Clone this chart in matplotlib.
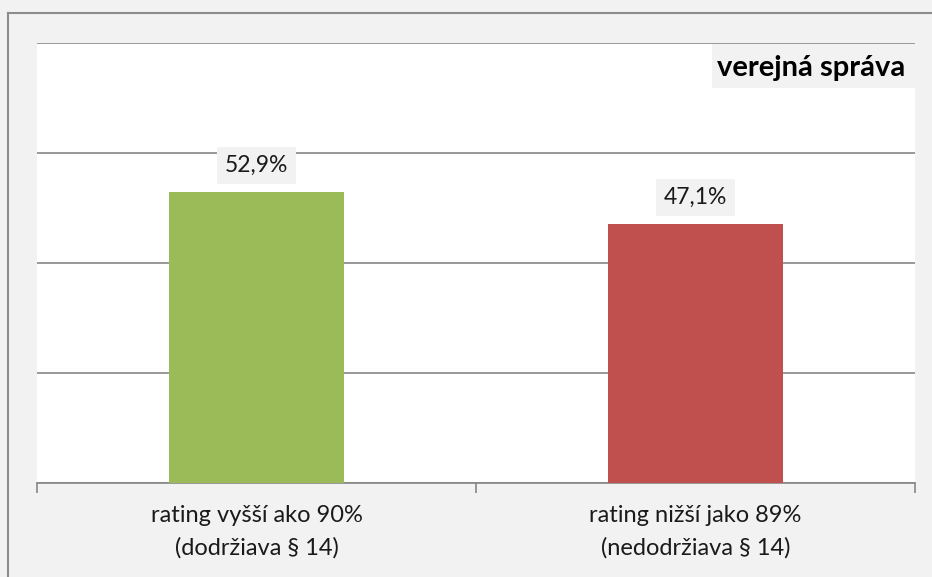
import matplotlib.pyplot as plt
from matplotlib.lines import Line2D
from matplotlib.patches import Rectangle

plt.rcParams['font.family'] = ['Lato', 'DejaVu Sans']

categories = ['rating vyšší ako 90%\n(dodržiava § 14)',
              'rating nižší jako 89%\n(nedodržiava § 14)']
values = [52.9, 47.1]
labels = ['52,9%', '47,1%']
colors = ['#9BBB59', '#C0504D']
title = 'verejná správa'

fig = plt.figure(figsize=(9.32, 5.77), dpi=100, facecolor='#F2F2F2')
ax = fig.add_axes([0.0397, 0.163, 0.9421, 0.7625])
ax.set_facecolor('white')

x = range(len(values))
ax.bar(x, values, width=0.4, color=colors, zorder=3)
ax.set_xlim(-0.5, len(values) - 0.5)
ax.set_ylim(0, 80)
ax.set_yticks([0, 20, 40, 60, 80])
ax.yaxis.grid(True, color='#868686', lw=1.2, zorder=0)
ax.tick_params(axis='y', left=False, labelleft=False)

for s in ['left', 'right', 'top']:
    ax.spines[s].set_visible(False)
ax.spines['bottom'].set_color('#868686')
ax.spines['bottom'].set_linewidth(1.2)

# category boundaries as tick marks, labels in between
ax.set_xticks([-0.5, 0.5, 1.5])
ax.set_xticklabels([])
ax.tick_params(axis='x', length=7, width=1.2, color='#868686')
ax.set_xticks(list(x), minor=True)
ax.set_xticklabels(categories, minor=True, fontsize=17, color='#1a1a1a',
                   linespacing=1.6)
ax.tick_params(axis='x', which='minor', length=0, pad=16)

for xi, v, lab in zip(x, values, labels):
    ax.annotate(lab, (xi, v), xytext=(0, 19), textcoords='offset points',
                ha='center', va='center', fontsize=16.5, color='#1a1a1a',
                bbox=dict(boxstyle='square,pad=0.35', fc='#F2F2F2', ec='none'))

ax.add_patch(Rectangle((0.769, 0.898), 0.231, 0.1, transform=ax.transAxes,
                       fc='#F2F2F2', ec='none', zorder=4))
ax.text(0.9886, 0.943, title, transform=ax.transAxes, ha='right', va='center',
        fontsize=21, fontweight='bold', color='black', zorder=5)

# outer chart border (top and left edges visible)
fig.add_artist(Line2D([0.009, 1.0], [1 - 13 / 577, 1 - 13 / 577],
                      transform=fig.transFigure, color='#8c8c8c', lw=1.5))
fig.add_artist(Line2D([0.009, 0.009], [0, 1 - 13 / 577],
                      transform=fig.transFigure, color='#8c8c8c', lw=1.5))

fig.savefig('out.png', dpi=100, facecolor=fig.get_facecolor())
